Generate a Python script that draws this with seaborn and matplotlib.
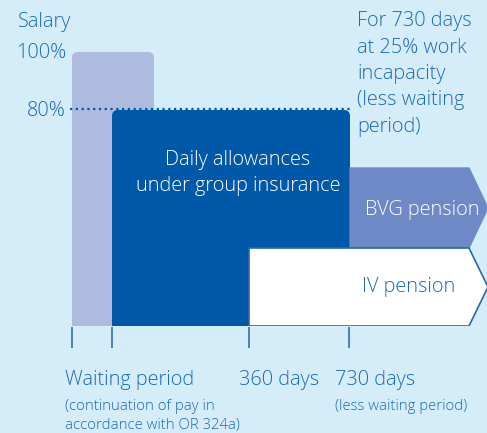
import matplotlib
matplotlib.use("Agg")
import matplotlib.pyplot as plt
from matplotlib.patches import FancyBboxPatch, Polygon
import seaborn as sns

# ---- data (schematic diagram units, 0..487 x 0..433, y downward) ----
level_labels = ["100%", "80%"]
level_pos = [52, 110]                      # salary levels on the schematic axis
bar_names = ["Salary (continuation)", "Daily allowances"]
bar_start = [72, 112]
bar_end = [154, 350]
bar_top = [52, 110]
bar_bottom = 326
pension_names = ["BVG pension", "IV pension"]
pension_start = [350, 249]
pension_top = [168, 248]
pension_bottom = [248, 326]
pension_flat_end = 469
pension_tip = 488
tick_pos = [72, 112, 249, 349]
milestone_labels = ["Waiting period", "360 days", "730 days"]
milestone_x = [65, 239, 335]

BG = "#d5ecf9"
TXT = "#1a6ab5"
LIGHT = "#adbbdf"
DARK = "#0059a8"
BVG = "#6f89c6"

sns.set_theme(style="white")
plt.rcParams["font.family"] = ["Open Sans", "DejaVu Sans"]
plt.rcParams["font.weight"] = "light"

fig = plt.figure(figsize=(4.87, 4.33), dpi=100, facecolor=BG)
ax = fig.add_axes([0, 0, 1, 1])
ax.set_facecolor(BG)
ax.set_xlim(0, 487)
ax.set_ylim(433, 0)
ax.axis("off")

# salary bars with rounded top corners
for i, (x0, x1, yt) in enumerate(zip(bar_start, bar_end, bar_top)):
    col = LIGHT if i == 0 else DARK
    r = 6
    p = FancyBboxPatch((x0 + r, yt + r), x1 - x0 - 2 * r, bar_bottom - yt,
                       boxstyle=f"round,pad={r},rounding_size={r}",
                       fc=col, ec="none", zorder=2 + i, mutation_aspect=1)
    ax.add_patch(p)
    ax.fill_between([x0, x1], yt + 3 * r, bar_bottom, color=col, lw=0, zorder=2 + i)

# cover overflow below bars
ax.fill_between([0, 487], bar_bottom, 433, color=BG, lw=0, zorder=6)

# dotted 80% line
ax.plot([70, bar_end[1]], [level_pos[1] - 1.5, level_pos[1] - 1.5], ls=(0, (1, 1.6)),
        color=DARK, lw=1.6, zorder=5)

# pensions as arrows
for i, (name, x0, yt, yb) in enumerate(zip(pension_names, pension_start, pension_top, pension_bottom)):
    ym = (yt + yb) / 2
    pts = [(x0, yt), (pension_flat_end, yt), (pension_tip, ym),
           (pension_flat_end, yb), (x0, yb)]
    if i == 0:
        poly = Polygon(pts, closed=True, fc=BVG, ec=BVG, lw=1, joinstyle="round", zorder=4)
    else:
        poly = Polygon(pts, closed=True, fc="white", ec="#2a66b0", lw=1.2,
                       joinstyle="round", zorder=5)
    ax.add_patch(poly)

# ticks
for x in tick_pos:
    ax.plot([x, x], [327, 348], color="#3a78bd", lw=1.3, zorder=7, solid_capstyle="butt")

fs = 14.3
sfs = 10.7
ax.text(18, 22, "Salary", color=TXT, fontsize=fs, va="center", ha="left", zorder=8)
for lab, y in zip(level_labels, level_pos):
    ax.text(66, y + 1, lab, color=TXT, fontsize=fs, va="center", ha="right", zorder=8)

ax.text(357, 74, "For 730 days\nat 25% work\nincapacity\n(less waiting\nperiod)",
        color=TXT, fontsize=fs, va="center", ha="left", linespacing=1.42, zorder=8)

ax.text(238, 173, "Daily allowances\nunder group insurance", color="white", fontsize=fs,
        va="center", ha="center", linespacing=1.43, zorder=8)
ax.text(365, 210, pension_names[0], color="white", fontsize=fs, va="center", ha="left", zorder=8)
ax.text(362, 287, pension_names[1], color=TXT, fontsize=fs, va="center", ha="left", zorder=8)

for lab, x in zip(milestone_labels, milestone_x):
    ax.text(x, 380, lab, color=TXT, fontsize=fs, va="center", ha="left", zorder=8)
ax.text(65, 416, "(continuation of pay in\naccordance with OR 324a)", color=TXT, fontsize=sfs,
        va="center", ha="left", linespacing=1.38, zorder=8)
ax.text(335, 406, "(less waiting period)", color=TXT, fontsize=sfs, va="center", ha="left", zorder=8)

fig.savefig("out.png", dpi=100, facecolor=BG)
